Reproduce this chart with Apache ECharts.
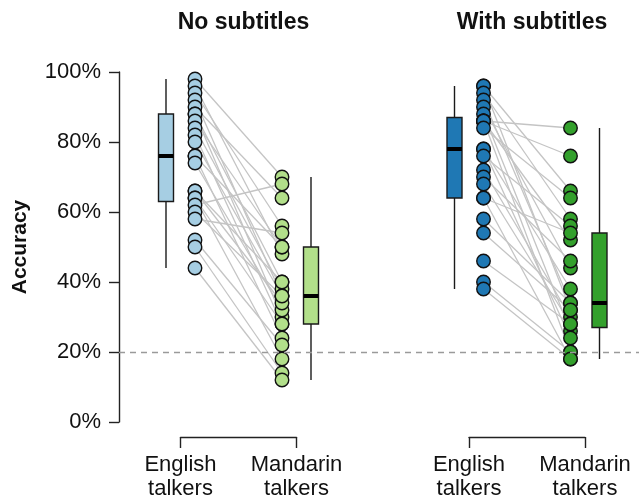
<!DOCTYPE html>
<html>
<head>
<meta charset="utf-8">
<title>Accuracy by talker group</title>
<script src="https://cdn.jsdelivr.net/npm/echarts@6/dist/echarts.min.js"></script>
<style>
  html, body { margin: 0; padding: 0; background: #ffffff; }
  #chart { width: 639px; height: 503px; }
</style>
</head>
<body>
<div id="chart"></div>
<script>
// ---- data -------------------------------------------------------------
const panelTitles = ['No subtitles', 'With subtitles'];
const talkerGroups = ['English\ntalkers', 'Mandarin\ntalkers'];
const chanceLevel = 20;

// Per-item accuracy (%), index-aligned: item i of English pairs with item i of Mandarin
const noSubEnglish  = [98, 96, 94, 92, 90, 88, 88, 86, 84, 82, 80, 76, 76, 74, 66, 66, 64, 64, 62, 60, 58, 52, 50, 44];
const noSubMandarin = [70, 48, 56, 36, 64, 40, 30, 50, 38, 28, 36, 50, 24, 32, 34, 40, 28, 18, 68, 36, 54, 22, 14, 12];
const subEnglish    = [96, 96, 94, 92, 90, 88, 86, 86, 86, 86, 84, 78, 78, 76, 72, 70, 68, 64, 64, 58, 54, 46, 40, 38];
const subMandarin   = [66, 32, 58, 34, 44, 26, 84, 76, 52, 20, 64, 38, 24, 56, 30, 46, 28, 54, 18, 34, 32, 28, 20, 18];

// Box summaries: [lower whisker, Q1, median, Q3, upper whisker]
const noSubEnglishBox  = [44, 63, 76, 88, 98];
const noSubMandarinBox = [12, 28, 36, 50, 70];
const subEnglishBox    = [38, 64, 78, 87, 96];
const subMandarinBox   = [18, 27, 34, 54, 84];

// ---- layout / style ---------------------------------------------------
const FONT = "'Liberation Sans', Arial, Helvetica, sans-serif";
const INK = '#111111';
const PANEL_LEFT = [180.5, 469];   // x of the first talker group in each panel
const GROUP_GAP = 116;             // pixels between the two talker groups
const PAD = 0.45;                  // extra axis room on each side (group units)
const DODGE = 0.125;               // points / boxes sit either side of a group
const PLOT_TOP = 72, PLOT_H = 350;
const BOX_HALF = 7.5;

const panels = [
  { english: noSubEnglish, mandarin: noSubMandarin, boxes: [noSubEnglishBox, noSubMandarinBox], colors: ['#a6cee3', '#b2df8a'] },
  { english: subEnglish,   mandarin: subMandarin,   boxes: [subEnglishBox, subMandarinBox],     colors: ['#1f78b4', '#33a02c'] }
];

function boxRenderer(color) {
  return function (params, api) {
    const x = api.value(0);
    const [cx, yMin] = api.coord([x, api.value(1)]);
    const yQ1 = api.coord([x, api.value(2)])[1];
    const yMed = api.coord([x, api.value(3)])[1];
    const yQ3 = api.coord([x, api.value(4)])[1];
    const yMax = api.coord([x, api.value(5)])[1];
    const stroke = { stroke: '#1a1a1a', lineWidth: 1.4, fill: null };
    return {
      type: 'group',
      children: [
        { type: 'line', shape: { x1: cx, y1: yMax, x2: cx, y2: yQ3 }, style: stroke },
        { type: 'line', shape: { x1: cx, y1: yQ1, x2: cx, y2: yMin }, style: stroke },
        { type: 'rect', shape: { x: cx - BOX_HALF, y: yQ3, width: 2 * BOX_HALF, height: yQ1 - yQ3 },
          style: { fill: color, stroke: '#1a1a1a', lineWidth: 1.4 } },
        { type: 'line', shape: { x1: cx - BOX_HALF, y1: yMed, x2: cx + BOX_HALF, y2: yMed },
          style: { stroke: '#000000', lineWidth: 4, fill: null } }
      ]
    };
  };
}

// grid 0: full-width backdrop carrying the accuracy axis and the chance line
const grids = [{ left: 119, right: 0, top: PLOT_TOP, height: PLOT_H, outerBoundsMode: 'none', containLabel: false }];
const xAxes = [{ gridIndex: 0, type: 'value', min: 0, max: 1, show: false }];
const yAxes = [{
  gridIndex: 0, type: 'value', min: 0, max: 100, interval: 20,
  axisLine: { show: true, lineStyle: { color: '#222', width: 1.4 } },
  axisTick: { show: true, length: 10, inside: false, lineStyle: { color: '#222', width: 1.4 } },
  axisLabel: { formatter: '{value}%', fontSize: 22, color: INK, fontFamily: FONT, margin: 18 },
  splitLine: { show: false },
  name: 'Accuracy', nameLocation: 'middle', nameGap: 88, nameRotate: 90,
  nameTextStyle: { fontSize: 21, fontWeight: 'bold', color: INK, fontFamily: FONT }
}];
const series = [{
  type: 'line', xAxisIndex: 0, yAxisIndex: 0, data: [], silent: true,
  markLine: {
    symbol: 'none', silent: true, animation: false, label: { show: false },
    lineStyle: { type: [6, 5], color: '#9a9a9a', width: 1.4 },
    data: [{ yAxis: chanceLevel }]
  }
}];

panels.forEach((p, k) => {
  // data grid
  const gi = grids.length;
  grids.push({
    left: PANEL_LEFT[k] - PAD * GROUP_GAP, width: (1 + 2 * PAD) * GROUP_GAP,
    top: PLOT_TOP, height: PLOT_H, outerBoundsMode: 'none', containLabel: false
  });
  xAxes.push({ gridIndex: gi, type: 'value', min: -PAD, max: 1 + PAD, show: false });
  yAxes.push({ gridIndex: gi, type: 'value', min: 0, max: 100, show: false });

  // paired items joined English -> Mandarin
  series.push({
    type: 'lines', coordinateSystem: 'cartesian2d', xAxisIndex: gi, yAxisIndex: gi, z: 1,
    silent: true, animation: false,
    lineStyle: { color: '#c4c4c4', width: 1.3, opacity: 1 },
    data: p.english.map((e, i) => ({ coords: [[DODGE, e], [1 - DODGE, p.mandarin[i]]] }))
  });
  // box summaries, set outside the point columns
  p.boxes.forEach((b, g) => {
    series.push({
      type: 'custom', xAxisIndex: gi, yAxisIndex: gi, z: 2, silent: true, animation: false,
      renderItem: boxRenderer(p.colors[g]),
      encode: { x: 0, y: [1, 2, 3, 4, 5] },
      data: [[g === 0 ? -DODGE : 1 + DODGE].concat(b)]
    });
  });
  // individual items
  [p.english, p.mandarin].forEach((vals, g) => {
    series.push({
      type: 'scatter', xAxisIndex: gi, yAxisIndex: gi, z: 3, silent: true, animation: false,
      symbol: 'circle', symbolSize: 13.5,
      itemStyle: { color: p.colors[g], borderColor: '#111', borderWidth: 1.4, opacity: 1 },
      data: vals.map(v => [g === 0 ? DODGE : 1 - DODGE, v])
    });
  });

  // bracket axis naming the two talker groups
  const bi = grids.length;
  grids.push({
    left: PANEL_LEFT[k], width: GROUP_GAP, top: 420, height: 17,
    outerBoundsMode: 'none', containLabel: false
  });
  xAxes.push({
    gridIndex: bi, type: 'value', min: 0, max: 1, interval: 1, position: 'bottom',
    axisLine: { show: true, onZero: false, lineStyle: { color: '#222', width: 1.4 } },
    axisTick: { show: true, length: 11, inside: false, lineStyle: { color: '#222', width: 1.4 } },
    axisLabel: {
      formatter: v => talkerGroups[v], fontSize: 22, lineHeight: 24, margin: 16,
      color: INK, fontFamily: FONT, showMinLabel: true, showMaxLabel: true, hideOverlap: false
    },
    splitLine: { show: false }
  });
  yAxes.push({ gridIndex: bi, type: 'value', min: 0, max: 1, show: false });
});

const chart = echarts.init(document.getElementById('chart'), null, { renderer: 'canvas' });
chart.setOption({
  backgroundColor: '#ffffff',
  animation: false,
  title: panelTitles.map((t, k) => ({
    text: t, left: PANEL_LEFT[k] + GROUP_GAP / 2, top: 6, textAlign: 'center',
    textStyle: { fontSize: 23, fontWeight: 'bold', color: INK, fontFamily: FONT }
  })),
  grid: grids,
  xAxis: xAxes,
  yAxis: yAxes,
  series: series
});
</script>
</body>
</html>
